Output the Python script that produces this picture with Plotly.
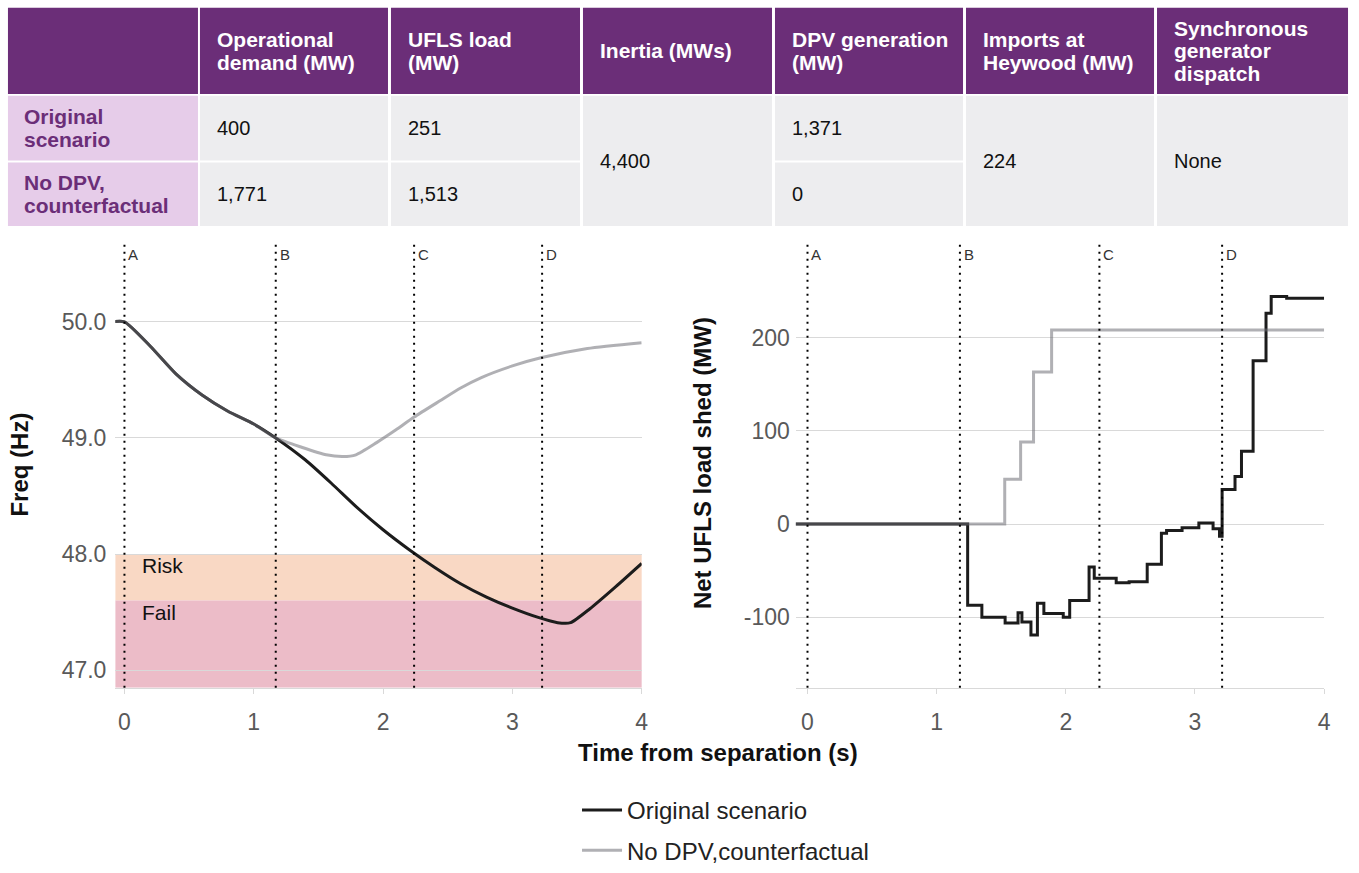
import plotly.graph_objects as go

W, H = 1359, 873
FONT = "Arial, Liberation Sans, sans-serif"

# ---------------- table content ----------------
header_lines = [
    [],
    ["Operational", "demand (MW)"],
    ["UFLS load", "(MW)"],
    ["Inertia (MWs)"],
    ["DPV generation", "(MW)"],
    ["Imports at", "Heywood (MW)"],
    ["Synchronous", "generator", "dispatch"],
]
scenario_lines = [["Original", "scenario"], ["No DPV,", "counterfactual"]]
operational_demand = ["400", "1,771"]
ufls_load = ["251", "1,513"]
inertia = "4,400"
dpv_generation = ["1,371", "0"]
imports_heywood = "224"
sync_dispatch = "None"

# ---------------- frequency (Hz) ----------------
t_freq_orig = [-0.1, 0.0, 0.2, 0.4, 0.6, 0.8, 1.0, 1.17, 1.4, 1.6, 1.8, 2.0, 2.2,
               2.4, 2.6, 2.8, 3.0, 3.2, 3.35, 3.45, 3.6, 3.8, 4.0]
freq_orig = [50.0, 50.0, 49.79, 49.55, 49.37, 49.23, 49.12, 49.0, 48.81, 48.61, 48.40,
             48.21, 48.04, 47.885, 47.745, 47.63, 47.535, 47.455, 47.41, 47.41, 47.53,
             47.72, 47.92]
t_freq_cf = [-0.1, 0.0, 0.2, 0.4, 0.6, 0.8, 1.0, 1.17, 1.37, 1.56, 1.69, 1.79, 1.95,
             2.1, 2.24, 2.44, 2.6, 2.76, 3.0, 3.22, 3.58, 4.0]
freq_cf = [50.0, 50.0, 49.79, 49.55, 49.37, 49.23, 49.12, 49.0, 48.92, 48.855, 48.84,
           48.855, 48.96, 49.07, 49.18, 49.32, 49.43, 49.52, 49.62, 49.69, 49.77, 49.82]

# ---------------- net UFLS load shed (MW) ----------------
t_shed_orig = [-0.1, 1.24, 1.35, 1.53, 1.63, 1.66, 1.73, 1.78, 1.83, 1.98, 2.03, 2.18,
               2.22, 2.39, 2.49, 2.63, 2.74, 2.78, 2.90, 3.03, 3.14, 3.19, 3.21, 3.31,
               3.36, 3.45, 3.55, 3.59, 3.71, 4.0]
shed_orig = [0, -87, -100, -106, -95, -105, -119, -85, -96, -100, -82, -46,
             -58, -63, -62, -43, -10, -7, -4, 1, -5, -13, 37, 51,
             78, 175, 226, 244, 242, 242]
t_shed_cf = [-0.1, 1.527, 1.65, 1.75, 1.89, 4.0]
shed_cf = [0, 48, 88, 163, 208, 208]

# ---------------- markers, bands, axes ----------------
event_labels = ["A", "B", "C", "D"]
event_t_freq = [0.0, 1.17, 2.24, 3.23]
event_t_shed = [0.0, 1.18, 2.26, 3.21]
freq_range = [46.85, 50.665]
shed_range = [-175.5, 299.7]
risk_band = [47.6, 48.0]
fail_band = [freq_range[0], 47.6]
freq_ticks = [47, 48, 49, 50]
freq_ticktext = ["47.0", "48.0", "49.0", "50.0"]
shed_ticks = [-100, 0, 100, 200]
shed_ticktext = ["-100", "0", "100", "200"]
time_ticks = [0, 1, 2, 3, 4]

series_names = ["Original scenario", "No DPV,counterfactual"]
BLACK = "#1c1c1c"
GREY = "rgba(109,109,117,0.54)"

PURPLE = "#6B2E78"
LILAC = "#E6CCE9"
CELL = "#EDEDEF"


def px_x(x):
    return x / W


def px_y(y):
    return 1 - y / H


fig = go.Figure()

# ---- lines ----
fig.add_trace(go.Scatter(x=t_freq_orig, y=freq_orig, mode="lines", name=series_names[0],
                         line=dict(color=BLACK, width=3, shape="spline", smoothing=0.6),
                         xaxis="x", yaxis="y", legendgroup="o", legendrank=1))
fig.add_trace(go.Scatter(x=t_freq_cf, y=freq_cf, mode="lines", name=series_names[1],
                         line=dict(color=GREY, width=3, shape="spline", smoothing=0.6),
                         xaxis="x", yaxis="y", legendgroup="c", legendrank=2))
fig.add_trace(go.Scatter(x=t_shed_orig, y=shed_orig, mode="lines", name=series_names[0],
                         line=dict(color=BLACK, width=3, shape="hv"),
                         xaxis="x2", yaxis="y2", legendgroup="o", showlegend=False))
fig.add_trace(go.Scatter(x=t_shed_cf, y=shed_cf, mode="lines", name=series_names[1],
                         line=dict(color=GREY, width=3, shape="hv"),
                         xaxis="x2", yaxis="y2", legendgroup="c", showlegend=False))

shapes = []
annotations = []

# ---- table ----
col_edges = [(8, 199), (201, 390), (393, 583), (586, 776), (779, 968), (971, 1160), (1163, 1355)]
header_y = (8, 96)
row_y = [(98, 164), (166, 231)]
merged_y = (98, 231)


def cell(x0, x1, y0, y1, color):
    shapes.append(dict(type="rect", xref="paper", yref="paper",
                       x0=px_x(x0), x1=px_x(x1), y0=px_y(y1), y1=px_y(y0),
                       fillcolor=color, line=dict(width=0), layer="below"))


def lines_text(lines, x, yc, size, color, bold, spacing):
    n = len(lines)
    for i, s in enumerate(lines):
        y = yc + (i - (n - 1) / 2) * spacing
        annotations.append(dict(xref="paper", yref="paper", x=px_x(x), y=px_y(y),
                                text=f"<b>{s}</b>" if bold else s, showarrow=False,
                                xanchor="left", yanchor="middle",
                                font=dict(family=FONT, size=size, color=color)))


for (x0, x1), lines in zip(col_edges, header_lines):
    cell(x0, x1, *header_y, PURPLE)
    lines_text(lines, x0 + 15, (header_y[0] + header_y[1]) / 2, 21, "white", True, 23)

for r, (y0, y1) in enumerate(row_y):
    yc = (y0 + y1) / 2
    cell(*col_edges[0], y0, y1, LILAC)
    lines_text(scenario_lines[r], 22, yc, 21, PURPLE, True, 23)
    for c, values in ((1, operational_demand), (2, ufls_load), (4, dpv_generation)):
        x0, x1 = col_edges[c]
        cell(x0, x1, y0, y1, CELL)
        lines_text([values[r]], x0 + 15, yc, 20, "#111111", False, 23)

for c, value in ((3, inertia), (5, imports_heywood), (6, sync_dispatch)):
    x0, x1 = col_edges[c]
    cell(x0, x1, *merged_y, CELL)
    lines_text([value], x0 + 15, (merged_y[0] + merged_y[1]) / 2, 20, "#111111", False, 23)

# ---- risk / fail bands ----
shapes.append(dict(type="rect", xref="x domain", yref="y", x0=0, x1=1,
                   y0=risk_band[0], y1=risk_band[1], fillcolor="#F9D8C4",
                   line=dict(width=0), layer="below"))
shapes.append(dict(type="rect", xref="x domain", yref="y", x0=0, x1=1,
                   y0=fail_band[0], y1=fail_band[1], fillcolor="#ECBCC8",
                   line=dict(width=0), layer="below"))
annotations.append(dict(xref="x", yref="y", x=0.12, y=47.9, text="Risk", showarrow=False,
                        xanchor="left", yanchor="middle",
                        font=dict(family=FONT, size=21, color="#111111")))
annotations.append(dict(xref="x", yref="y", x=0.12, y=47.5, text="Fail", showarrow=False,
                        xanchor="left", yanchor="middle",
                        font=dict(family=FONT, size=21, color="#111111")))

# ---- event markers ----
for xa, ts in (("x", event_t_freq), ("x2", event_t_shed)):
    ya = "y" if xa == "x" else "y2"
    for lab, t in zip(event_labels, ts):
        shapes.append(dict(type="line", xref=xa, yref=f"{ya} domain", x0=t, x1=t, y0=0, y1=1,
                           line=dict(color="black", width=2, dash="2px,5px")))
        annotations.append(dict(xref=xa, yref="paper", x=t, y=px_y(260), text=lab,
                                showarrow=False, xanchor="left", yanchor="middle", xshift=2,
                                font=dict(family=FONT, size=15, color="#333333")))

# ---- axis titles ----
annotations.append(dict(xref="paper", yref="paper", x=px_x(722), y=px_y(769),
                        text="<b>Time from separation (s)</b>", showarrow=False,
                        xanchor="center", yanchor="middle",
                        font=dict(family=FONT, size=24, color="#111111")))
annotations.append(dict(xref="paper", yref="paper", x=px_x(20), y=px_y(475),
                        text="<b>Freq (Hz)</b>", showarrow=False, textangle=-90,
                        xanchor="center", yanchor="middle",
                        font=dict(family=FONT, size=24, color="#111111")))
annotations.append(dict(xref="paper", yref="paper", x=px_x(706), y=px_y(473),
                        text="<b>Net UFLS load shed (MW)</b>", showarrow=False, textangle=-90,
                        xanchor="center", yanchor="middle",
                        font=dict(family=FONT, size=24, color="#111111")))

ydom = [px_y(703), px_y(250)]
tickfont = dict(family=FONT, size=23, color="#595959")
xcommon = dict(showgrid=False, zeroline=False, showline=True, linecolor="#D9D9D9",
               ticks="outside", ticklen=5, tickcolor="#D9D9D9", tickvals=time_ticks,
               tickfont=tickfont, ticklabelstandoff=9)
ycommon = dict(showgrid=True, gridcolor="#D9D9D9", gridwidth=1, zeroline=False,
               showline=False, ticks="", tickfont=tickfont, domain=ydom)

fig.update_layout(
    width=W, height=H,
    margin=dict(l=0, r=0, t=0, b=0),
    paper_bgcolor="white", plot_bgcolor="white",
    font=dict(family=FONT),
    xaxis=dict(domain=[px_x(116), px_x(645)], range=[-0.07, 4.0], anchor="y", **xcommon),
    yaxis=dict(range=freq_range, anchor="x", tickvals=freq_ticks, ticktext=freq_ticktext,
               ticklabelstandoff=8, **ycommon),
    xaxis2=dict(domain=[px_x(800), px_x(1331)], range=[-0.09, 4.0], anchor="y2", **xcommon),
    yaxis2=dict(range=shed_range, anchor="x2", tickvals=shed_ticks, ticktext=shed_ticktext,
                ticklabelstandoff=5, **ycommon),
    legend=dict(x=px_x(580), y=px_y(806), xanchor="left", yanchor="top",
                orientation="v", bgcolor="rgba(0,0,0,0)", tracegroupgap=6, itemwidth=40,
                font=dict(family=FONT, size=24, color="#222222")),
    shapes=shapes,
    annotations=annotations,
    showlegend=True,
)

# keep the page flush with the window so the figure sits at the origin
fig.write_html("out.html",
               post_script="document.body.style.margin='0';document.body.style.overflow='hidden';")
